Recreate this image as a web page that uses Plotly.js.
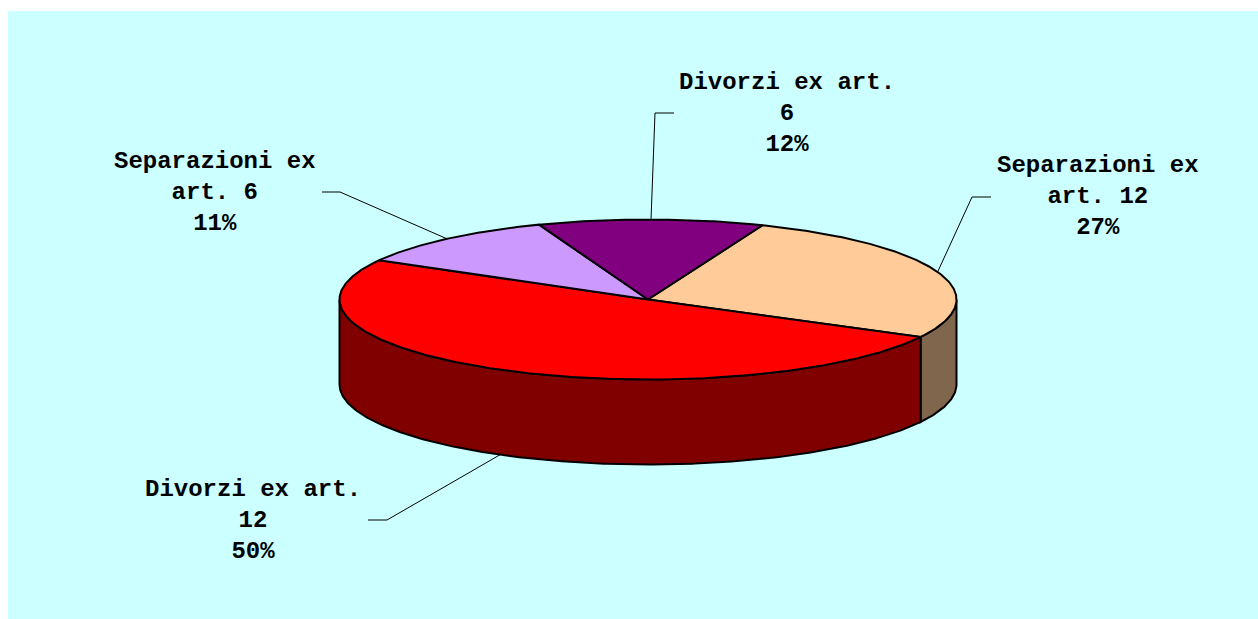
<!DOCTYPE html>
<html><head><meta charset="utf-8">
<script src="https://cdn.plot.ly/plotly-3.0.1.min.js"></script>
<style>html,body{margin:0;padding:0;background:#fff;overflow:hidden}#chart{width:1258px;height:619px}</style>
</head><body><div id="chart"></div>
<script>
// ---- data ----
const categories = ["Separazioni ex art. 12", "Divorzi ex art. 12", "Separazioni ex art. 6", "Divorzi ex art. 6"];
const values = [26.7, 50.4, 11.1, 11.8];
const topColors = ["#FFCC99", "#FF0000", "#CC99FF", "#800080"];
const sideColors = ["#80664D", "#800000", "#664D80", "#400040"];

// ---- geometry / layout constants (page pixels) ----
const CX = 648, CY = 299.5, RX = 308.5, RY = 80, DEPTH = 85, START = 21.8;
const labelPlace = [
  {x: 1098, y: 196, elbow: [972, 197], end: [991, 197]},
  {x: 253,  y: 520, elbow: [387, 520], end: [368, 520]},
  {x: 215,  y: 192, elbow: [340, 192], end: [322, 192]},
  {x: 787,  y: 113, elbow: [655, 113], end: [674, 113]}
];

const rad = d => d * Math.PI / 180;
function pt(a, dy) { return [CX + RX * Math.sin(rad(a)), CY - RY * Math.cos(rad(a)) + (dy || 0)]; }
function arc(a0, a1, dy) {
  const n = Math.max(2, Math.ceil(Math.abs(a1 - a0) / 0.5));
  const out = [];
  for (let k = 0; k <= n; k++) out.push(pt(a0 + (a1 - a0) * k / n, dy));
  return out;
}
function wrap(s, max) {
  const words = s.split(' '); const lines = []; let cur = '';
  words.forEach(w => {
    const t = cur ? cur + ' ' + w : w;
    if (t.length > max && cur) { lines.push(cur); cur = w; } else cur = t;
  });
  if (cur) lines.push(cur);
  return lines.join('<br>');
}

const total = values.reduce((a, b) => a + b, 0);
const spans = []; let acc = START;
values.forEach(v => { const a0 = acc; acc += v / total * 360; spans.push([a0, acc]); });

const traces = [];
// side faces (front half only)
spans.forEach((s, i) => {
  [[90, 270], [450, 630]].forEach(f => {
    const a0 = Math.max(s[0], f[0]), a1 = Math.min(s[1], f[1]);
    if (a1 <= a0) return;
    const pts = arc(a0, a1, 0).concat(arc(a1, a0, DEPTH));
    pts.push(pts[0]);
    traces.push({type: 'scatter', mode: 'lines', x: pts.map(p => p[0]), y: pts.map(p => p[1]),
      fill: 'toself', fillcolor: sideColors[i], line: {color: '#000', width: 2}, hoverinfo: 'skip', showlegend: false});
  });
});
// top faces
spans.forEach((s, i) => {
  const pts = [[CX, CY]].concat(arc(s[0], s[1], 0)); pts.push([CX, CY]);
  traces.push({type: 'scatter', mode: 'lines', x: pts.map(p => p[0]), y: pts.map(p => p[1]),
    fill: 'toself', fillcolor: topColors[i], line: {color: '#000', width: 2}, hoverinfo: 'skip', showlegend: false});
});
// leader lines
const annotations = [];
spans.forEach((s, i) => {
  const m = (s[0] + s[1]) / 2; const mn = ((m % 360) + 360) % 360;
  const anchor = pt(m, (mn > 90 && mn < 270) ? DEPTH : 0);
  const L = labelPlace[i];
  const pts = [anchor, L.elbow, L.end];
  traces.push({type: 'scatter', mode: 'lines', x: pts.map(p => p[0]), y: pts.map(p => p[1]),
    line: {color: '#000', width: 1}, hoverinfo: 'skip', showlegend: false});
  annotations.push({xref: 'x', yref: 'y', x: L.x, y: L.y, xanchor: 'center', yanchor: 'middle', align: 'center',
    showarrow: false, text: wrap(categories[i], 15) + '<br>' + Math.round(values[i] / total * 100) + '%',
    font: {family: 'Liberation Mono, Courier New, monospace', size: 24, weight: 700, color: '#000'}});
});

const layout = {
  width: 1258, height: 619,
  margin: {l: 8, t: 11, r: 0, b: 0, pad: 0},
  paper_bgcolor: '#FFFFFF', plot_bgcolor: '#CCFFFF',
  xaxis: {range: [8, 1258], visible: false, fixedrange: true},
  yaxis: {range: [619, 11], visible: false, fixedrange: true},
  showlegend: false,
  annotations: annotations
};
Plotly.newPlot('chart', traces, layout, {staticPlot: true, displayModeBar: false});
</script>
</body></html>
